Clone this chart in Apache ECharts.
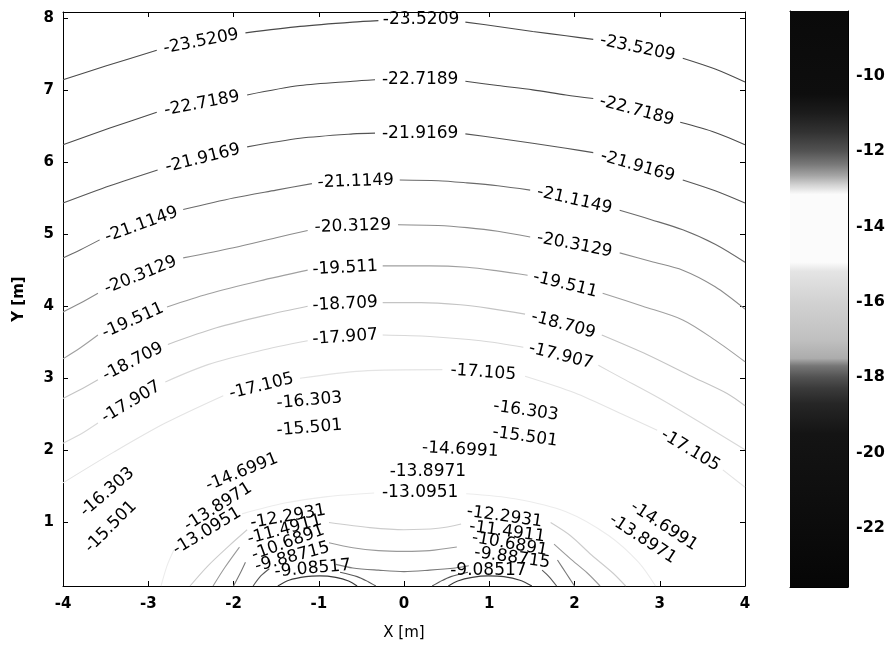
<!DOCTYPE html>
<html><head><meta charset="utf-8">
<script src="https://cdn.jsdelivr.net/npm/echarts@6/dist/echarts.min.js"></script>
<style>html,body{margin:0;padding:0;background:#fff}#c{width:890px;height:650px}</style>
</head><body><div id="c"></div>
<script>
// ---- axis ranges / ticks ----
const xTicks = [-4, -3, -2, -1, 0, 1, 2, 3, 4];
const yTicks = [1, 2, 3, 4, 5, 6, 7, 8];
const xRange = [-4, 4];
const yRange = [0.12, 8.08];
const cbRange = [-23.56, -8.29];
const cbTicks = [-22, -20, -18, -16, -14, -12, -10];

// ---- colour bar (value -> grey) ----
const cbStopValues = [-8.29, -10.5, -11.0, -11.5, -12.0, -12.35, -12.65, -12.9, -13.15, -14.95, -15.2, -16.0, -17.0, -17.5, -17.7, -18.0, -18.3, -18.7, -19.5, -23.56];
const cbStopGreys  = ['#0a0a0a', '#0e0e0e', '#1c1c1c', '#323232', '#525252', '#787878', '#a4a4a4', '#d2d2d2', '#fbfbfb', '#fbfbfb', '#e4e4e4', '#d2d2d2', '#c0c0c0', '#acacac', '#767676', '#525252', '#3a3a3a', '#262626', '#141414', '#060606'];

// ---- contour levels and their polylines (segments broken at labels) ----
const c_23_5209 = [
  [[-4, 7.14], [-3.5, 7.33], [-2.9, 7.55]],
  [[-1.86, 7.79], [-1.22, 7.88], [-0.6, 7.94], [-0.3, 7.96]],
  [[0.72, 7.94], [1.1, 7.88], [1.51, 7.81], [1.9, 7.75], [2.22, 7.70]],
  [[3.27, 7.44], [3.65, 7.29], [4, 7.11]]
];
const c_22_7189 = [
  [[-4, 6.24], [-3.45, 6.47], [-2.9, 6.69]],
  [[-1.84, 6.93], [-1.22, 7.06], [-0.6, 7.12], [-0.34, 7.14]],
  [[0.72, 7.12], [1.1, 7.06], [1.51, 7.00], [1.9, 6.93], [2.22, 6.88]],
  [[3.24, 6.55], [3.65, 6.41], [4, 6.24]]
];
const c_21_9169 = [
  [[-4, 5.43], [-3.45, 5.67], [-2.89, 5.89]],
  [[-1.84, 6.21], [-1.22, 6.33], [-0.6, 6.39], [-0.34, 6.40]],
  [[0.72, 6.39], [1.1, 6.33], [1.51, 6.26], [1.9, 6.19], [2.22, 6.13]],
  [[3.27, 5.75], [3.65, 5.60], [4, 5.43]]
];
const c_21_1149 = [
  [[-4, 4.67], [-3.8, 4.78], [-3.57, 4.92]],
  [[-2.59, 5.34], [-2.0, 5.50], [-1.5, 5.61], [-1.08, 5.70]],
  [[-0.05, 5.75], [0.4, 5.74], [0.74, 5.71], [1.1, 5.67], [1.48, 5.61]],
  [[2.53, 5.33], [2.9, 5.2], [3.27, 5.06], [3.65, 4.86], [4, 4.61]]
];
const c_20_3129 = [
  [[-4, 3.92], [-3.8, 4.04], [-3.59, 4.18]],
  [[-2.59, 4.67], [-2.0, 4.81], [-1.5, 4.95], [-1.13, 5.05]],
  [[-0.07, 5.13], [0.4, 5.12], [0.74, 5.09], [1.1, 5.04], [1.48, 4.96]],
  [[2.53, 4.74], [2.9, 4.62], [3.27, 4.50], [3.65, 4.27], [4, 3.96]]
];
const c_19_511 = [
  [[-4, 3.27], [-3.8, 3.42], [-3.59, 3.60]],
  [[-2.78, 3.99], [-2.3, 4.17], [-1.7, 4.35], [-1.13, 4.50]],
  [[-0.25, 4.56], [0.3, 4.56], [0.74, 4.54], [1.1, 4.49], [1.45, 4.43]],
  [[2.33, 4.18], [2.8, 4.00], [3.27, 3.81], [3.65, 3.53], [4, 3.23]]
];
const c_18_709 = [
  [[-4, 2.72], [-3.8, 2.84], [-3.59, 2.98]],
  [[-2.77, 3.47], [-2.2, 3.70], [-1.6, 3.88], [-1.13, 4.00]],
  [[-0.25, 4.05], [0.2, 4.05], [0.66, 4.02], [1.0, 3.97], [1.42, 3.89]],
  [[2.32, 3.60], [2.85, 3.33], [3.35, 3.04], [3.79, 2.79], [4, 2.62]]
];
const c_17_907 = [
  [[-4, 2.10], [-3.8, 2.22], [-3.59, 2.38]],
  [[-2.80, 2.95], [-2.3, 3.19], [-1.7, 3.38], [-1.13, 3.52]],
  [[-0.25, 3.60], [0.3, 3.58], [0.9, 3.52], [1.4, 3.43]],
  [[2.28, 3.18], [2.53, 3.02], [3.0, 2.72], [3.5, 2.37], [4, 2.01]]
];
const c_17_105 = [
  [[-4, 1.55], [-3.4, 1.98], [-2.8, 2.38], [-2.12, 2.76]],
  [[-1.22, 3.00], [-0.5, 3.10], [0.45, 3.12]],
  [[1.42, 3.03], [2.0, 2.80], [2.6, 2.48], [2.97, 2.28]],
  [[3.74, 1.73], [4, 1.49]]
];
const c_13_0951 = [
  [[-2.85, 0.12], [-2.78, 0.40], [-2.7, 0.62]],
  [[-1.9, 1.12], [-1.4, 1.27], [-0.9, 1.36], [-0.35, 1.41]],
  [[0.73, 1.40], [1.3, 1.33], [1.9, 1.15], [2.4, 0.82], [2.75, 0.45], [2.95, 0.12]]
];
const c_12_2931 = [
  [[-2.51, 0.12], [-2.3, 0.40], [-2.05, 0.68], [-1.84, 0.90]],
  [[-0.88, 1.00], [-0.4, 0.93], [0, 0.90], [0.4, 0.92], [0.67, 0.98]],
  [[1.72, 1.00], [1.95, 0.82], [2.2, 0.55], [2.45, 0.30], [2.6, 0.12]]
];
const c_11_4911 = [
  [[-2.24, 0.12], [-2.1, 0.38], [-1.93, 0.66]],
  [[-0.88, 0.72], [-0.6, 0.65], [-0.3, 0.61], [0, 0.60], [0.3, 0.61], [0.62, 0.66]],
  [[1.76, 0.70], [1.95, 0.50], [2.15, 0.30], [2.3, 0.12]]
];
const c_10_6891 = [
  [[-2.0, 0.12], [-1.92, 0.30], [-1.86, 0.45]],
  [[-0.8, 0.42], [-0.6, 0.37], [-0.3, 0.34], [0, 0.32], [0.3, 0.34], [0.6, 0.37], [0.76, 0.40]],
  [[1.8, 0.48], [1.9, 0.30], [2.0, 0.12]]
];
const c_9_88715 = [
  [[-1.77, 0.12], [-1.68, 0.26], [-1.58, 0.36]],
  [[-0.75, 0.31], [-0.55, 0.25], [-0.42, 0.18], [-0.33, 0.12]],
  [[0.33, 0.12], [0.42, 0.18], [0.55, 0.25], [0.75, 0.31]],
  [[1.62, 0.34], [1.70, 0.25], [1.79, 0.12]]
];
const c_9_08517 = [
  [[-1.48, 0.12], [-1.35, 0.20], [-1.15, 0.25], [-0.99, 0.26], [-0.8, 0.24], [-0.65, 0.19], [-0.55, 0.12]],
  [[0.52, 0.12], [0.63, 0.19], [0.8, 0.24], [0.99, 0.26], [1.17, 0.25], [1.36, 0.20], [1.5, 0.12]]
];
const contourLevels = [-23.5209, -22.7189, -21.9169, -21.1149, -20.3129, -19.511, -18.709, -17.907, -17.105, -13.0951, -12.2931, -11.4911, -10.6891, -9.88715, -9.08517];
const contourSegments = [c_23_5209, c_22_7189, c_21_9169, c_21_1149, c_20_3129, c_19_511, c_18_709, c_17_907, c_17_105, c_13_0951, c_12_2931, c_11_4911, c_10_6891, c_9_88715, c_9_08517];
// line colours (style)
const contourColors = ['#4a4a4a', '#4a4a4a', '#555555', '#6a6a6a', '#8c8c8c', '#a0a0a0', '#c4c4c4', '#d8d8d8', '#e4e4e4', '#ececec', '#cccccc', '#9a9a9a', '#7a7a7a', '#5a5a5a', '#3a3a3a'];

// ---- inline contour labels ----
const labelText = ['-23.5209', '-23.5209', '-23.5209', '-22.7189', '-22.7189', '-22.7189', '-21.9169', '-21.9169', '-21.9169',
  '-21.1149', '-21.1149', '-21.1149', '-20.3129', '-20.3129', '-20.3129', '-19.511', '-19.511', '-19.511',
  '-18.709', '-18.709', '-18.709', '-17.907', '-17.907', '-17.907', '-17.105', '-17.105', '-17.105',
  '-16.303', '-16.303', '-16.303', '-15.501', '-15.501', '-15.501', '-14.6991', '-14.6991', '-14.6991',
  '-13.8971', '-13.8971', '-13.8971', '-13.0951', '-13.0951', '-12.2931', '-12.2931', '-11.4911', '-11.4911',
  '-10.6891', '-10.6891', '-9.88715', '-9.88715', '-9.08517', '-9.08517'];
const labelX = [-2.38, 0.20, 2.74, -2.37, 0.19, 2.73, -2.36, 0.19, 2.74,
  -3.08, -0.565, 2.0, -3.09, -0.6, 2.0, -3.18, -0.69, 1.89,
  -3.18, -0.69, 1.87, -3.2, -0.69, 1.84, -1.67, 0.93, 3.36,
  -3.48, -1.11, 1.43, -3.44, -1.11, 1.42, -1.90, 0.66, 3.05,
  -2.18, 0.28, 2.80, -2.31, 0.19, -1.36, 1.18, -1.40, 1.21,
  -1.36, 1.24, -1.31, 1.27, -1.07, 0.99];
const labelY = [7.67, 7.97, 7.58, 6.81, 7.14, 6.71, 6.05, 6.40, 5.94,
  5.13, 5.73, 5.47, 4.43, 5.11, 4.85, 3.80, 4.53, 4.30,
  3.23, 4.03, 3.74, 2.67, 3.57, 3.31, 2.89, 3.08, 2.00,
  1.42, 2.69, 2.55, 0.94, 2.31, 2.19, 1.70, 2.01, 0.95,
  1.22, 1.70, 0.77, 0.88, 1.41, 1.08, 1.08, 0.90, 0.87,
  0.72, 0.70, 0.52, 0.51, 0.36, 0.34];
// label rotation (style, degrees)
const labelAngle = [11, 0, -12, 11, 0, -15, 14, 0, -16,
  20, 2, -13, 22, 2, -11, 24, 3, -14,
  27, 3, -15, 31, 4, -14, 14, -4, -31,
  41, 5, -8, 45, 5, -8, 22, -3, -33,
  32, 0, -33, 31, 0, 10, -8, 15, -8,
  20, -10, 15, -8, 5, 0];

const FONT = 'DejaVu Sans';
const chart = echarts.init(document.getElementById('c'), null, {renderer: 'canvas'});

const cbStops = cbStopValues.map((v, i) => ({offset: (cbRange[1] - v) / (cbRange[1] - cbRange[0]), color: cbStopGreys[i]}));

const series = [];
contourSegments.forEach((segs, li) => {
  segs.forEach(seg => {
    series.push({
      type: 'line', xAxisIndex: 0, yAxisIndex: 0, data: seg,
      name: String(contourLevels[li]),
      symbol: 'none', smooth: 0.3, silent: true, z: 2,
      lineStyle: {color: contourColors[li], width: 1.1}
    });
  });
});
series.push({
  type: 'scatter', xAxisIndex: 0, yAxisIndex: 0, z: 5, silent: true,
  symbolSize: 1, itemStyle: {color: 'rgba(0,0,0,0)'},
  data: labelText.map((t, i) => ({name: t, value: [labelX[i], labelY[i]], label: {rotate: labelAngle[i]}})),
  label: {show: true, position: 'inside', formatter: p => p.name, color: '#000', opacity: 1, fontFamily: FONT, fontSize: 17}
});
series.push({
  type: 'custom', xAxisIndex: 2, yAxisIndex: 2, silent: true, clip: false,
  data: [[0, cbRange[0], 1, cbRange[1]]],
  renderItem: (params, api) => {
    const p0 = api.coord([0, cbRange[1]]);
    const p1 = api.coord([1, cbRange[0]]);
    return {type: 'rect', shape: {x: p0[0], y: p0[1], width: p1[0] - p0[0], height: p1[1] - p0[1]},
      style: {fill: new echarts.graphic.LinearGradient(0, 0, 0, 1, cbStops)}};
  }
});

const tickLabel = {color: '#000', fontFamily: FONT, fontWeight: 'bold', fontSize: 15};
const line = {show: true, onZero: false, lineStyle: {color: '#000', width: 1}};
const tick = {show: true, inside: true, length: 5, lineStyle: {color: '#000', width: 1}};

chart.setOption({
  animation: false,
  backgroundColor: '#fff',
  grid: [
    {left: 63, top: 12, width: 682, height: 574, show: false},
    {left: 790, top: 11, width: 58, height: 576, show: false}
  ],
  xAxis: [
    {gridIndex: 0, type: 'value', min: xRange[0], max: xRange[1], interval: 1, position: 'bottom',
      axisLine: line, axisTick: tick, splitLine: {show: false},
      axisLabel: Object.assign({margin: 11}, tickLabel),
      name: 'X [m]', nameLocation: 'middle', nameGap: 40,
      nameTextStyle: {color: '#000', fontFamily: FONT, fontSize: 15}},
    {gridIndex: 0, type: 'value', min: xRange[0], max: xRange[1], interval: 1, position: 'top',
      axisLine: line, axisTick: tick, splitLine: {show: false}, axisLabel: {show: false}},
    {gridIndex: 1, type: 'value', min: 0, max: 1, position: 'bottom',
      axisLine: line, axisTick: {show: false}, splitLine: {show: false}, axisLabel: {show: false}},
    {gridIndex: 1, type: 'value', min: 0, max: 1, position: 'top',
      axisLine: line, axisTick: {show: false}, splitLine: {show: false}, axisLabel: {show: false}}
  ],
  yAxis: [
    {gridIndex: 0, type: 'value', min: yRange[0], max: yRange[1], position: 'left',
      axisLine: line, axisTick: Object.assign({customValues: yTicks}, tick), splitLine: {show: false},
      axisLabel: Object.assign({customValues: yTicks, margin: 9}, tickLabel),
      name: 'Y [m]', nameLocation: 'middle', nameGap: 36, nameRotate: 90,
      nameTextStyle: {color: '#000', fontFamily: FONT, fontSize: 15, fontWeight: 'bold'}},
    {gridIndex: 0, type: 'value', min: yRange[0], max: yRange[1], position: 'right',
      axisLine: line, axisTick: Object.assign({customValues: yTicks}, tick), splitLine: {show: false},
      axisLabel: {show: false}},
    {gridIndex: 1, type: 'value', min: cbRange[0], max: cbRange[1], position: 'right',
      axisLine: line, axisTick: Object.assign({customValues: cbTicks}, tick), splitLine: {show: false},
      axisLabel: Object.assign({customValues: cbTicks, margin: 8}, tickLabel, {fontSize: 16})},
    {gridIndex: 1, type: 'value', min: cbRange[0], max: cbRange[1], position: 'left',
      axisLine: line, axisTick: Object.assign({customValues: cbTicks}, tick), splitLine: {show: false},
      axisLabel: {show: false}}
  ],
  series: series
});
</script>
</body></html>
